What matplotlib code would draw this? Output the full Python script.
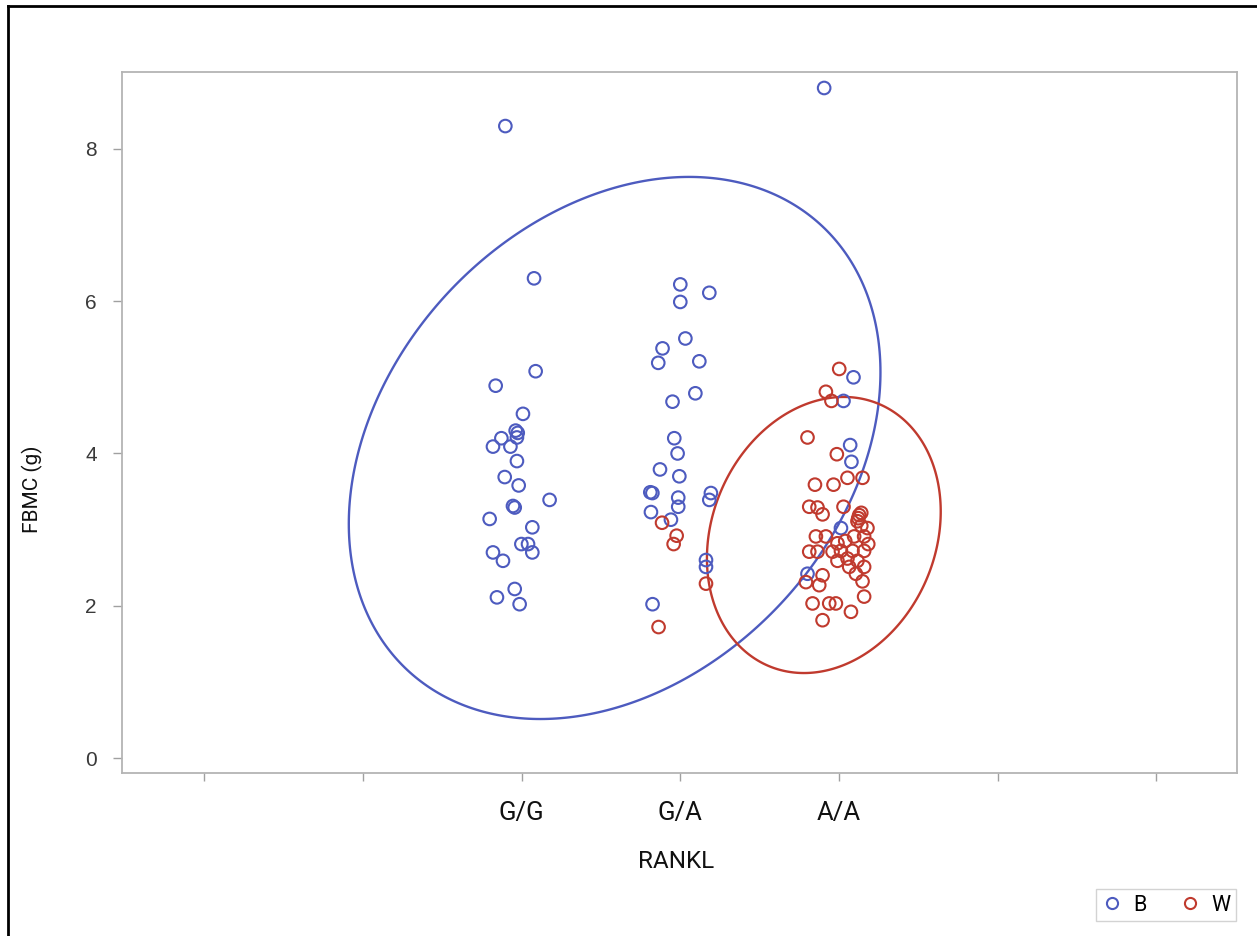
import numpy as np
import matplotlib
matplotlib.use("Agg")
import matplotlib.pyplot as plt
from matplotlib import font_manager
from matplotlib.lines import Line2D
from matplotlib.patches import Polygon

# Genotype categories on a numeric axis (jittered scatter)
genotypes = ["G/G", "G/A", "A/A"]
genotype_pos = [1, 2, 3]
axis_ticks = [-1, 0, 1, 2, 3, 4, 5]
y_ticks = [0, 2, 4, 6, 8]

# Group B: jittered RANKL position and FBMC (g)
b_x = [0.897, 1.078, 1.088, 0.836, 1.008, 0.962, 0.975, 0.970, 0.872, 0.819,
       0.929, 0.970, 0.893, 0.981, 1.176, 0.945, 0.956, 0.798, 1.067, 0.998,
       1.040, 1.067, 0.819, 0.882, 0.956, 0.844, 0.987,
       2.000, 2.000, 2.183, 2.032, 1.888, 1.861, 2.120, 2.095, 1.951, 1.962,
       1.983, 1.872, 1.994, 1.811, 1.824, 1.987, 1.987, 2.193, 2.183, 1.815,
       1.941, 2.162, 2.162, 1.825,
       2.907, 3.092, 3.029, 3.071, 3.079, 3.013, 2.802]
b_y = [8.30, 6.30, 5.08, 4.89, 4.52, 4.30, 4.27, 4.21, 4.20, 4.09,
       4.09, 3.90, 3.69, 3.58, 3.39, 3.31, 3.29, 3.14, 3.03, 2.81,
       2.81, 2.70, 2.70, 2.59, 2.22, 2.11, 2.02,
       6.22, 5.99, 6.11, 5.51, 5.38, 5.19, 5.21, 4.79, 4.68, 4.20,
       4.00, 3.79, 3.70, 3.49, 3.48, 3.42, 3.30, 3.48, 3.39, 3.23,
       3.13, 2.60, 2.51, 2.02,
       8.80, 5.00, 4.69, 4.11, 3.89, 3.02, 2.42]

# Group W: jittered RANKL position and FBMC (g)
w_x = [1.885, 1.977, 1.958, 2.162, 1.863,
       3.002, 2.918, 2.953, 2.802, 2.987, 3.054, 3.149, 2.849, 2.966, 2.813,
       2.865, 2.897, 3.029, 3.128, 3.122, 3.117, 3.180, 2.855, 2.918, 3.096,
       3.159, 2.991, 3.185, 2.813, 2.865, 2.960, 3.013, 3.086, 3.159, 2.991,
       3.054, 3.117, 3.065, 3.159, 3.107, 2.897, 2.792, 2.876, 3.149, 3.159,
       2.834, 2.939, 2.981, 3.076, 2.897, 3.141, 3.141, 3.040]
w_y = [3.09, 2.92, 2.81, 2.29, 1.72,
       5.11, 4.81, 4.69, 4.21, 3.99, 3.68, 3.68, 3.59, 3.59, 3.30,
       3.29, 3.20, 3.30, 3.19, 3.15, 3.11, 3.02, 2.91, 2.91, 2.91,
       2.91, 2.82, 2.81, 2.71, 2.71, 2.71, 2.72, 2.72, 2.72, 2.59,
       2.62, 2.59, 2.51, 2.51, 2.42, 2.40, 2.31, 2.27, 2.32, 2.12,
       2.03, 2.03, 2.03, 1.92, 1.81, 3.22, 3.05, 2.85]

# Prediction ellipses: center, half-extent along x and y, correlation
b_center, b_half, b_corr = (1.586, 4.072), (1.676, 3.560), 0.28
w_center, w_half, w_corr = (2.905, 2.929), (0.737, 1.813), 0.17

BLUE = "#4d5bbf"
RED = "#c03a2e"

available = {f.name for f in font_manager.fontManager.ttflist}
narrow = "Liberation Sans Narrow" if "Liberation Sans Narrow" in available else "Roboto"
plain = "Liberation Sans" if "Liberation Sans" in available else "DejaVu Sans"


def ellipse_points(center, half, corr, n=400):
    t = np.linspace(0, 2 * np.pi, n, endpoint=False)
    sx, sy = half
    ex = center[0] + sx * np.cos(t)
    ey = center[1] + sy * (corr * np.cos(t) + np.sqrt(1 - corr ** 2) * np.sin(t))
    return np.column_stack([ex, ey])


W, H = 1257, 936
fig = plt.figure(figsize=(W / 100, H / 100), dpi=100)
ax = fig.add_axes([122 / W, 1 - 773 / H, (1237 - 122) / W, (773 - 72) / H])

ax.scatter(b_x, b_y, s=82, facecolors="none", edgecolors=BLUE, linewidths=1.5, zorder=3)
ax.scatter(w_x, w_y, s=82, facecolors="none", edgecolors=RED, linewidths=1.5, zorder=3)

ax.add_patch(Polygon(ellipse_points(b_center, b_half, b_corr), closed=True, fill=False,
                     edgecolor=BLUE, lw=1.7, zorder=2))
ax.add_patch(Polygon(ellipse_points(w_center, w_half, w_corr), closed=True, fill=False,
                     edgecolor=RED, lw=1.7, zorder=2))

ax.set_xlim(-1.52, 5.51)
ax.set_ylim(-0.197, 9.01)

labels = {p: g for p, g in zip(genotype_pos, genotypes)}
ax.set_xticks(axis_ticks)
ax.set_xticklabels([labels.get(t, "") for t in axis_ticks], fontfamily=narrow, fontsize=18.5)
ax.set_yticks(y_ticks)
ax.set_yticklabels([str(v) for v in y_ticks], fontfamily=plain, fontsize=15, color="#3a3a3a")
ax.tick_params(axis="x", length=6, width=1, color="#a0a0a0", pad=14, labelcolor="#111111")
ax.tick_params(axis="y", length=6.5, width=1, color="#a0a0a0", pad=11.5)

for sp in ax.spines.values():
    sp.set_color("#b4b4b4")
    sp.set_linewidth(1.3)

ax.set_xlabel("RANKL", fontfamily=narrow, fontsize=17.5, color="#111111")
ax.set_ylabel("FBMC (g)", fontfamily=narrow, fontsize=15, color="#111111")
ax.xaxis.set_label_coords(0.497, -0.110)
ax.yaxis.set_label_coords(-0.071, 0.405)

handles = [
    Line2D([], [], marker="o", ls="none", markerfacecolor="none", markeredgecolor=BLUE,
           markersize=8, markeredgewidth=1.5, label="B"),
    Line2D([], [], marker="o", ls="none", markerfacecolor="none", markeredgecolor=RED,
           markersize=8, markeredgewidth=1.5, label="W"),
]
leg = fig.legend(handles=handles, loc="lower right", bbox_to_anchor=(1236 / W, 1 - 921 / H),
                 ncol=2, frameon=True, fancybox=False, borderaxespad=0, borderpad=0.25,
                 handletextpad=0.5, columnspacing=1.5, handlelength=1.0,
                 prop={"family": narrow, "size": 15.5})
leg.get_frame().set_edgecolor("#c8c8c8")
leg.get_frame().set_linewidth(1.0)

# Outer frame (left and top edges)
fig.add_artist(Line2D([8 / W, 8 / W], [0, 1 - 6 / H], color="black", lw=2, transform=fig.transFigure))
fig.add_artist(Line2D([8 / W, 1], [1 - 6 / H, 1 - 6 / H], color="black", lw=2, transform=fig.transFigure))

fig.savefig("out.png", dpi=100, facecolor="white")
